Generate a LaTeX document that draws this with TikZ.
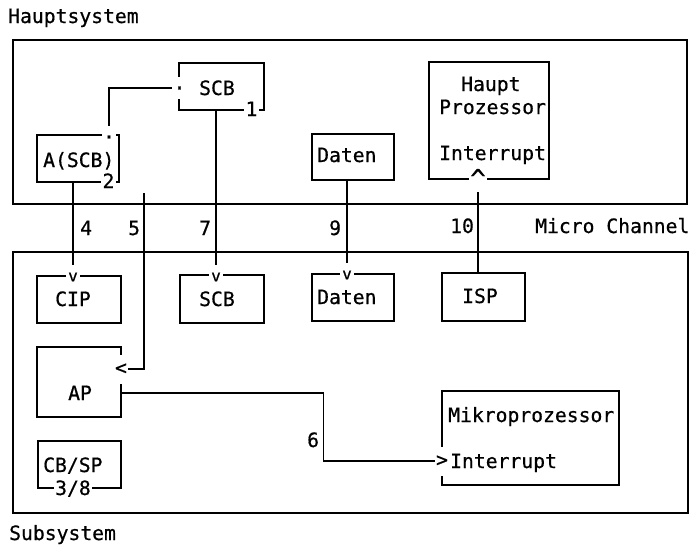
\documentclass[tikz,border=0pt]{standalone}
\usepackage{fontspec}
\newfontfamily\dmono[FakeBold=0.6]{DejaVu Sans Mono}
\begin{document}
\begin{tikzpicture}[x=1pt,y=-1pt,
  every node/.style={font=\dmono\fontsize{19.7}{22}\selectfont, inner sep=0pt},
  box/.style={draw, line width=1.5pt, inner sep=0pt},
  outer/.style={draw, line width=1.7pt},
  txt/.style={anchor=base west},
  lbl/.style={fill=white, inner xsep=1.5pt, inner ysep=1.5pt},
  vee/.style={fill=white, font=\dmono\fontsize{16}{18}\selectfont, inner xsep=2pt, inner ysep=1pt},
  hatmk/.style={fill=white, font=\dmono\fontsize{26}{28}\selectfont, inner xsep=1pt, inner ysep=1.5pt},
  vmk/.style={fill=white, inner xsep=0.5pt, inner ysep=9pt},
  dotmk/.style={fill=white, inner xsep=1pt, minimum height=22pt},
  conn/.style={line width=1.4pt},
  tov/.style={conn, shorten >=6pt},
]
\useasboundingbox (0,0) rectangle (690,549);
% outer frames
\node[outer, minimum width=674pt, minimum height=164pt] (hs) at (350,122) {};
\node[outer, minimum width=675pt, minimum height=261pt] (ss) at (350.5,382.5) {};
\node[txt] (hst) at (8,23) {Hauptsystem};
\node[txt] (sst) at (9,540) {Subsystem};
\node[txt] (mct) at (535,233) {Micro Channel};
% Hauptsystem boxes
\node[box, minimum width=85pt, minimum height=47pt] (scbA) at (221.5,86.5) {};
\node[txt] (scbAt) at (199,95) {SCB};
\node[box, minimum width=82pt, minimum height=47pt] (asc) at (78,158.5) {};
\node[txt] (asct) at (43,167) {A(SCB)};
\node[box, minimum width=82pt, minimum height=46pt] (dat1) at (353,157) {};
\node[txt] (dat1t) at (317,162) {Daten};
\node[box, minimum width=120pt, minimum height=117pt] (hp) at (489,120.5) {};
\node[txt] (hpt1) at (461,91) {Haupt};
\node[txt] (hpt2) at (439,114) {Prozessor};
\node[txt] (hpt3) at (439,160) {Interrupt};
% Subsystem boxes
\node[box, minimum width=84pt, minimum height=47pt] (cip) at (79,299.5) {};
\node[txt] (cipt) at (55,306) {CIP};
\node[box, minimum width=84pt, minimum height=48pt] (scbB) at (222,299) {};
\node[txt] (scbBt) at (199,306) {SCB};
\node[box, minimum width=82pt, minimum height=47pt] (dat2) at (353,297.5) {};
\node[txt] (dat2t) at (317,304) {Daten};
\node[box, minimum width=83pt, minimum height=48pt] (isp) at (483.5,297) {};
\node[txt] (ispt) at (462,303) {ISP};
\node[box, minimum width=84pt, minimum height=70pt] (ap) at (79,382) {};
\node[txt] (apt) at (68,400) {AP};
\node[box, minimum width=83pt, minimum height=47pt] (cbsp) at (79.5,464.5) {};
\node[txt] (cbspt) at (43,472) {CB/SP};
\node[box, minimum width=177pt, minimum height=94pt] (mp) at (530.5,438) {};
\node[txt] (mpt1) at (448,422) {Mikroprozessor};
\node[txt] (mpt2) at (450,468) {Interrupt};
% border marks
\node[lbl, anchor=base] (one) at (251.5,116) {1};
\node[dotmk] (sdot) at (179.5,88) {.};
\node[lbl, anchor=base] (two) at (108.5,188) {2};
\node[dotmk] (adot) at (109,137) {.};
\node[hatmk, anchor=base] (hat) at (478,188) {\textasciicircum};
\node[vee] (cipv) at (73,277) {v};
\node[vee] (scbv) at (216,277) {v};
\node[vee] (datv) at (347,275) {v};
\node[vmk] (aplt) at (121,369) {<};
\node[vmk] (mpgt) at (442,461) {>};
\node[lbl, anchor=base west] (tf) at (53.5,495) {3/8};
% channel numbers
\node[txt] (n4) at (80,235) {4};
\node[txt] (n5) at (128,235) {5};
\node[txt] (n7) at (199,235) {7};
\node[txt] (n9) at (329,235) {9};
\node[txt] (n10) at (450,233) {10};
\node[txt] (n6) at (307,447) {6};
% connectors
\coordinate (c5) at (144,193);
\draw[conn] (adot.north) |- (sdot.west);
\draw[tov] (cipv |- asc.south) -- (cipv.north);
\draw[conn] (c5) |- (aplt.east);
\draw[tov] (scbv |- scbA.south) -- (scbv.north);
\draw[tov] (datv |- dat1.south) -- (datv.north);
\draw[conn, shorten >=2.5pt] (hat |- isp.north) -- (hat.south);
\draw[conn] ([yshift=-11pt]ap.east) -- ++(202,0) |- (mpgt.west);
\end{tikzpicture}
\end{document}
